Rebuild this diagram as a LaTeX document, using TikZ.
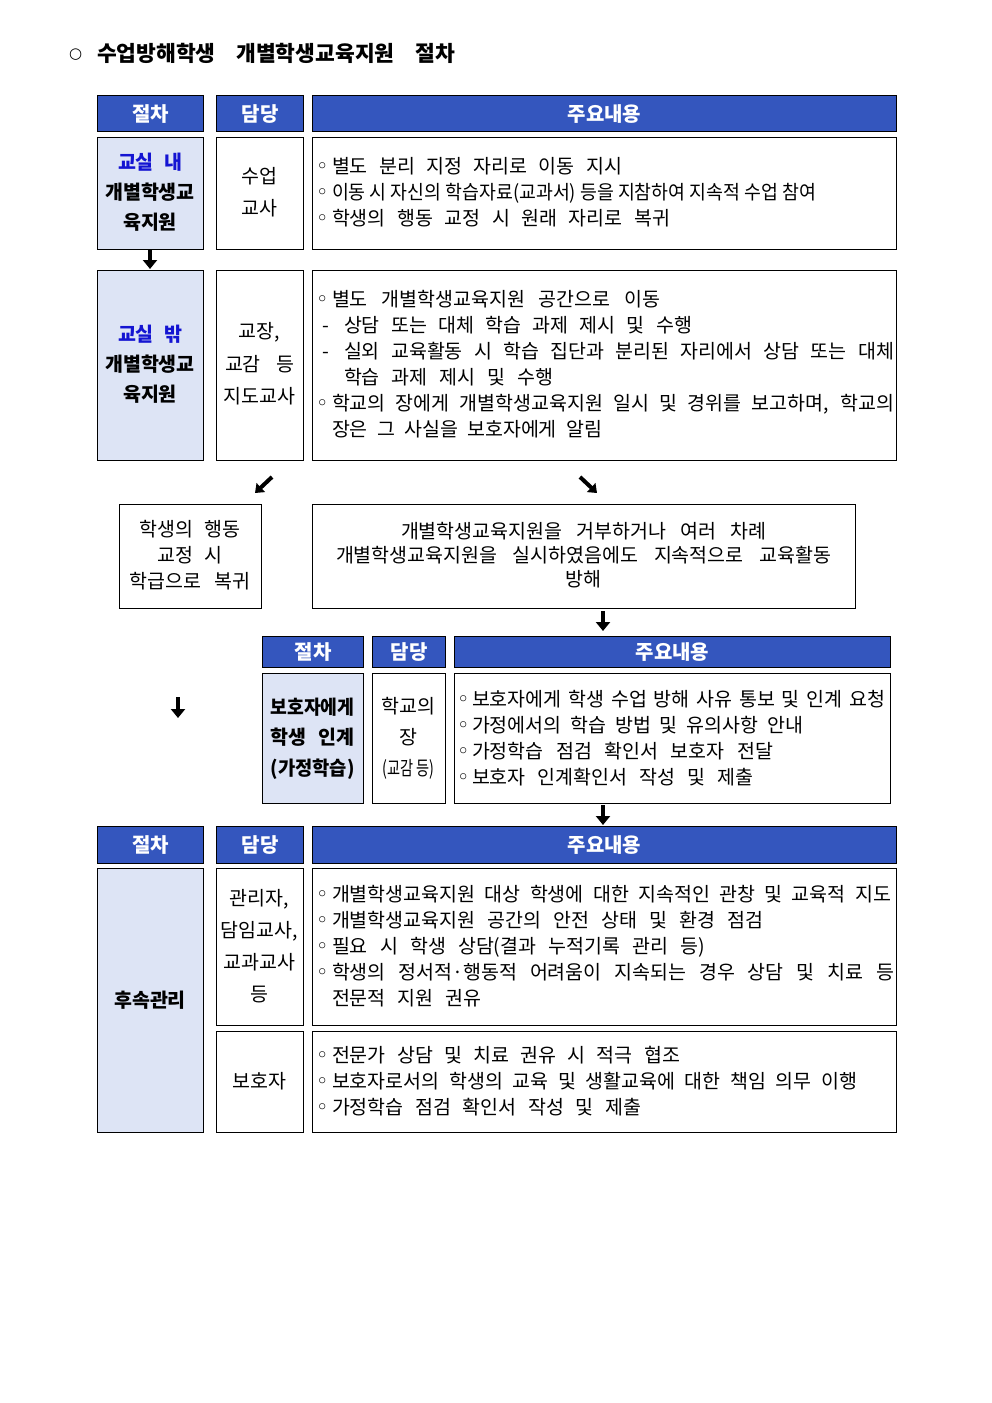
\documentclass[tikz,border=0pt]{standalone}
\usepackage{fontspec}
\setmainfont{Noto Sans CJK KR}
\newfontfamily\dv{DejaVu Sans}
\usepackage{graphicx}
\usetikzlibrary{arrows.meta}
\definecolor{hdrblue}{RGB}{52,86,190}
\definecolor{lightfill}{RGB}{221,228,245}
\definecolor{kwblue}{RGB}{20,20,210}
\newsavebox\fitbox
\newcounter{tn}
\newcommand\fitto[2]{\sbox\fitbox{#2}\ifdim\wd\fitbox>#1pt\relax\resizebox{#1pt}{\height}{\usebox\fitbox}\else\makebox[#1pt][s]{#2}\fi}
% left-aligned line: x, y(center), endx, text
\newcommand\txtline[4]{\stepcounter{tn}\pgfmathsetmacro\tlw{#3-#1}%
  \node[txt] (t\arabic{tn}) at (#1,#2+7.2) {\fitto{\tlw}{#4}};}
% bullet line: bulletx, textx, y, endx, text
\newcommand\bul[5]{\stepcounter{tn}\node[txt,font=\fontsize{21}{21}\selectfont] (b\arabic{tn}) at (#1,#3+7.2) {\dv ◦};\txtline{#2}{#3}{#4}{#5}}
% dash line
\newcommand\dashl[5]{\stepcounter{tn}\node[txt] (d\arabic{tn}) at (#1,#3+7.2) {-};\txtline{#2}{#3}{#4}{#5}}
% centered line with width: xc, y, width, text
\newcommand\ctext[4]{\stepcounter{tn}\node[txt,anchor=base] (c\arabic{tn}) at (#1,#2+7.2) {\fitto{#3}{#4}};}
% centered natural line
\newcommand\cnat[3]{\stepcounter{tn}\node[txt,anchor=base] (n\arabic{tn}) at (#1,#2+7.2) {#3};}
\tikzset{
  txt/.style={anchor=base west, inner sep=0pt, outer sep=0pt},
  hdr/.style={draw=black, line width=1.1pt, fill=hdrblue, text=white, font=\fontsize{20}{20}\selectfont\bfseries, anchor=north west, inner sep=0pt},
  cell/.style={draw=black, line width=1.1pt, anchor=north west, inner sep=0pt},
  lcell/.style={cell, fill=lightfill},
  fatarrow/.style={line width=4.5pt, -{Triangle[width=14pt,length=9pt]}},
  diagarrow/.style={line width=4pt, -{Triangle[width=12pt,length=8pt]}}
}
\begin{document}
\begin{tikzpicture}[x=1pt,y=-1pt,font=\fontsize{19.5}{26}\selectfont]
\useasboundingbox[fill=white] (0,0) rectangle (992,1403);

% title
\node[txt, font=\fontsize{15}{15}\selectfont] (bullet0) at (69,53+5) {\dv ○};
\node[txt, font=\fontsize{21.5}{22}\selectfont\bfseries] (title) at (97,53+8) {\fitto{358}{수업방해학생 개별학생교육지원 절차}};

% ===== table 1 =====
\node[hdr, minimum width=106pt, minimum height=36pt] (h1a) at (97,95) {절차};
\node[hdr, minimum width=87pt, minimum height=36pt] (h1b) at (216,95) {담당};
\node[hdr, minimum width=584pt, minimum height=36pt] (h1c) at (312,95) {주요내용};

\node[lcell, minimum width=106pt, minimum height=112pt] (r1a) at (97,137) {};
\node[cell, minimum width=87pt, minimum height=112pt] (r1b) at (216,137) {};
\node[cell, minimum width=584pt, minimum height=112pt] (r1c) at (312,137) {};

\ctext{150}{162}{64}{\bfseries\color{kwblue}교실 내}
\cnat{150}{192}{\bfseries 개별학생교}
\cnat{150}{222}{\bfseries 육지원}
\cnat{259.5}{176}{수업}
\cnat{259.5}{208}{교사}
\bul{316}{332}{166}{622}{별도 분리 지정 자리로 이동 지시}
\bul{316}{332}{192}{816}{이동 시 자신의 학습자료(교과서) 등을 지참하여 지속적 수업 참여}
\bul{316}{332}{218}{670}{학생의 행동 교정 시 원래 자리로 복귀}

\coordinate (a1s) at (150,250);
\coordinate (a1e) at (150,269);
\draw[fatarrow] (a1s) -- (a1e);

\node[lcell, minimum width=106pt, minimum height=190pt] (r2a) at (97,270) {};
\node[cell, minimum width=87pt, minimum height=190pt] (r2b) at (216,270) {};
\node[cell, minimum width=584pt, minimum height=190pt] (r2c) at (312,270) {};

\ctext{150}{334}{64}{\bfseries\color{kwblue}교실 밖}
\cnat{150}{364}{\bfseries 개별학생교}
\cnat{150}{394}{\bfseries 육지원}
\cnat{259.5}{331}{교장,}
\ctext{259.5}{364}{69}{교감 등}
\cnat{259.5}{396}{지도교사}
\bul{316}{332}{299}{660}{별도 개별학생교육지원 공간으로 이동}
\dashl{322}{344}{325}{692}{상담 또는 대체 학습 과제 제시 및 수행}
\dashl{322}{344}{351}{894}{실외 교육활동 시 학습 집단과 분리된 자리에서 상담 또는 대체}
\txtline{344}{377}{553}{학습 과제 제시 및 수행}
\bul{316}{332}{403}{894}{학교의 장에게 개별학생교육지원 일시 및 경위를 보고하며, 학교의}
\txtline{332}{429}{602}{장은 그 사실을 보호자에게 알림}

% diagonal arrows
\coordinate (a2s) at (272,477);
\coordinate (a2e) at (255,493);
\draw[diagarrow] (a2s) -- (a2e);
\coordinate (a3s) at (580,477);
\coordinate (a3e) at (597,493);
\draw[diagarrow] (a3s) -- (a3e);

% middle boxes
\node[cell, minimum width=142pt, minimum height=104pt] (bl) at (119,504) {};
\ctext{190}{529}{101}{학생의 행동}
\ctext{190}{555}{65}{교정 시}
\ctext{190}{581}{121}{학급으로 복귀}
\node[cell, minimum width=543pt, minimum height=104pt] (br) at (312,504) {};
\ctext{583.5}{531}{365}{개별학생교육지원을 거부하거나 여러 차례}
\ctext{583.5}{555}{495}{개별학생교육지원을 실시하였음에도 지속적으로 교육활동}
\cnat{583.5}{579}{방해}

\coordinate (a4s) at (603,611);
\coordinate (a4e) at (603,631);
\draw[fatarrow] (a4s) -- (a4e);

% ===== table 2 =====
\node[hdr, minimum width=101pt, minimum height=31pt] (h2a) at (262,636) {절차};
\node[hdr, minimum width=73pt, minimum height=31pt] (h2b) at (372,636) {담당};
\node[hdr, minimum width=436pt, minimum height=31pt] (h2c) at (454,636) {주요내용};
\node[lcell, minimum width=101pt, minimum height=130pt] (s2a) at (262,673) {};
\node[cell, minimum width=73pt, minimum height=130pt] (s2b) at (372,673) {};
\node[cell, minimum width=436pt, minimum height=130pt] (s2c) at (454,673) {};

\ctext{312.5}{707}{84}{\bfseries 보호자에게}
\ctext{312.5}{737}{84}{\bfseries 학생 인계}
\ctext{312.5}{768}{84}{\bfseries (가정학습)}
\cnat{408.5}{706}{학교의}
\cnat{408.5}{737}{장}
\ctext{408.5}{768}{52}{(교감 등)}
\bul{457}{472}{699}{885}{보호자에게 학생 수업 방해 사유 통보 및 인계 요청}
\bul{457}{472}{725}{803}{가정에서의 학습 방법 및 유의사항 안내}
\bul{457}{472}{751}{773}{가정학습 점검 확인서 보호자 전달}
\bul{457}{472}{777}{753}{보호자 인계확인서 작성 및 제출}

\coordinate (a5s) at (178,697);
\coordinate (a5e) at (178,718);
\draw[fatarrow] (a5s) -- (a5e);
\coordinate (a6s) at (603,805);
\coordinate (a6e) at (603,825);
\draw[fatarrow] (a6s) -- (a6e);

% ===== table 3 =====
\node[hdr, minimum width=106pt, minimum height=37pt] (h3a) at (97,826) {절차};
\node[hdr, minimum width=87pt, minimum height=37pt] (h3b) at (216,826) {담당};
\node[hdr, minimum width=584pt, minimum height=37pt] (h3c) at (312,826) {주요내용};
\node[lcell, minimum width=106pt, minimum height=264pt] (u3a) at (97,868) {};
\node[cell, minimum width=87pt, minimum height=157pt] (u3b) at (216,868) {};
\node[cell, minimum width=584pt, minimum height=157pt] (u3c) at (312,868) {};
\node[cell, minimum width=87pt, minimum height=101pt] (v3b) at (216,1031) {};
\node[cell, minimum width=584pt, minimum height=101pt] (v3c) at (312,1031) {};

\cnat{150}{1000}{\bfseries 후속관리}
\cnat{259.5}{898}{관리자,}
\cnat{259.5}{930}{담임교사,}
\cnat{259.5}{962}{교과교사}
\cnat{259.5}{994}{등}
\cnat{259.5}{1081}{보호자}
\bul{316}{332}{894}{891}{개별학생교육지원 대상 학생에 대한 지속적인 관창 및 교육적 지도}
\bul{316}{332}{920}{763}{개별학생교육지원 공간의 안전 상태 및 환경 점검}
\bul{316}{332}{946}{705}{필요 시 학생 상담(결과 누적기록 관리 등)}
\bul{316}{332}{972}{894}{학생의 정서적·행동적 어려움이 지속되는 경우 상담 및 치료 등}
\txtline{332}{998}{481}{전문적 지원 권유}
\bul{316}{332}{1055}{680}{전문가 상담 및 치료 권유 시 적극 협조}
\bul{316}{332}{1081}{857}{보호자로서의 학생의 교육 및 생활교육에 대한 책임 의무 이행}
\bul{316}{332}{1107}{641}{가정학습 점검 확인서 작성 및 제출}
\end{tikzpicture}
\end{document}
